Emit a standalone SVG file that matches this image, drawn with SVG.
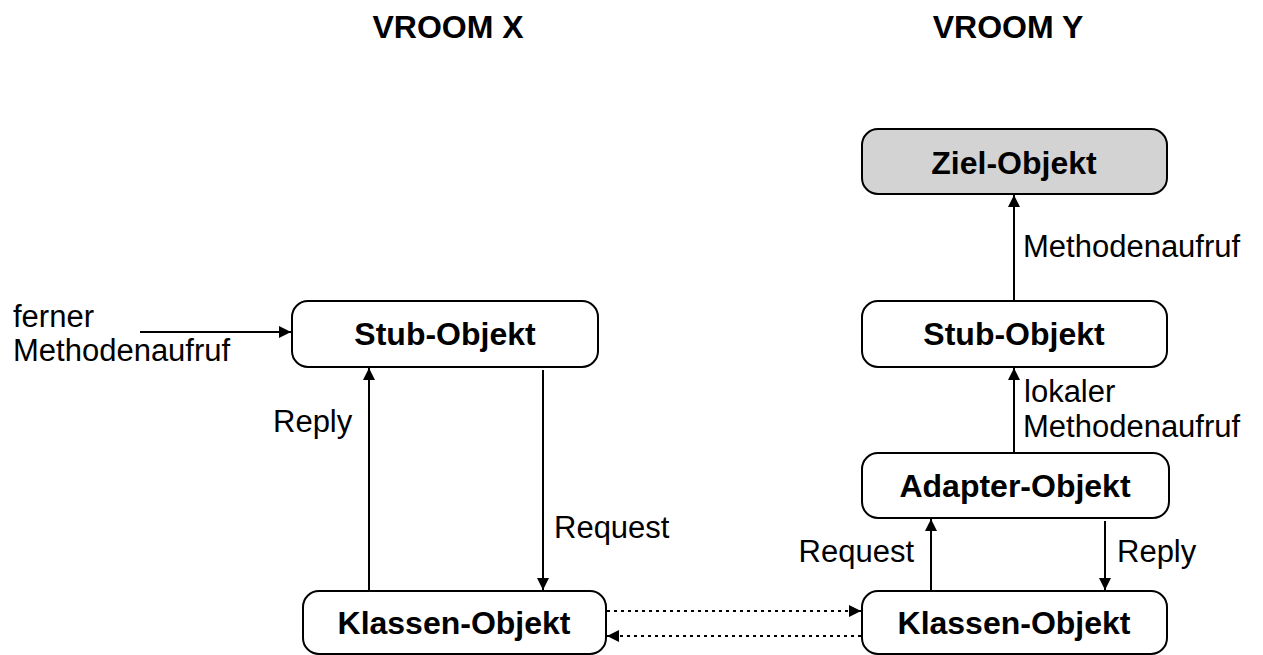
<svg xmlns="http://www.w3.org/2000/svg" width="1263" height="655" viewBox="0 0 1263 655">
<style>
.box{fill:#fff;stroke:#000;stroke-width:2}
.gray{fill:#d3d3d3}
.bt{font-family:"Liberation Sans",Arial,sans-serif;font-weight:bold;font-size:32px;text-anchor:middle}
.t{font-family:"Liberation Sans",Arial,sans-serif;font-size:31px}
.ln{stroke:#000;stroke-width:2;fill:none}
.dot{stroke:#000;stroke-width:2;fill:none;stroke-dasharray:3 4}
</style>
<defs>
<marker id="ah" viewBox="0 0 10 10" refX="10" refY="5" markerWidth="13" markerHeight="12" markerUnits="userSpaceOnUse" orient="auto"><path d="M0,0 L10,5 L0,10 z" fill="#000"/></marker>
</defs>
<text class="bt" x="448" y="38">VROOM X</text>
<text class="bt" x="1008" y="38">VROOM Y</text>
<g id="ziel"><rect class="box gray" x="862" y="129" width="305" height="65" rx="16"/><text class="bt" x="1014" y="174">Ziel-Objekt</text></g>
<g id="stubY"><rect class="box" x="862" y="301" width="305" height="66" rx="16"/><text class="bt" x="1014" y="345">Stub-Objekt</text></g>
<g id="adapter"><rect class="box" x="862" y="453" width="307" height="65" rx="16"/><text class="bt" x="1015" y="497">Adapter-Objekt</text></g>
<g id="klassenY"><rect class="box" x="862" y="591" width="305" height="63" rx="16"/><text class="bt" x="1014" y="634">Klassen-Objekt</text></g>
<g id="stubX"><rect class="box" x="292" y="301" width="306" height="66" rx="16"/><text class="bt" x="445" y="345">Stub-Objekt</text></g>
<g id="klassenX"><rect class="box" x="303" y="591" width="303" height="63" rx="16"/><text class="bt" x="454" y="634">Klassen-Objekt</text></g>
<g id="connectors">
<line class="ln" x1="140" y1="332" x2="291" y2="332" marker-end="url(#ah)"/>
<line class="ln" x1="369" y1="591" x2="369" y2="368" marker-end="url(#ah)"/>
<line class="ln" x1="543" y1="370" x2="543" y2="590" marker-end="url(#ah)"/>
<line class="dot" x1="607" y1="611" x2="861" y2="611" marker-end="url(#ah)"/>
<line class="dot" x1="861" y1="636" x2="607" y2="636" marker-end="url(#ah)"/>
<line class="ln" x1="931" y1="591" x2="931" y2="519" marker-end="url(#ah)"/>
<line class="ln" x1="1105" y1="521" x2="1105" y2="590" marker-end="url(#ah)"/>
<line class="ln" x1="1014" y1="453" x2="1014" y2="368" marker-end="url(#ah)"/>
<line class="ln" x1="1014" y1="301" x2="1014" y2="195" marker-end="url(#ah)"/>
</g>
<text class="t" x="13" y="327">ferner</text>
<text class="t" x="13" y="361">Methodenaufruf</text>
<text class="t" x="273" y="432">Reply</text>
<text class="t" x="554" y="538">Request</text>
<text class="t" x="1023" y="257">Methodenaufruf</text>
<text class="t" x="1024" y="402">lokaler</text>
<text class="t" x="1023" y="437">Methodenaufruf</text>
<text class="t" x="914" y="562" text-anchor="end">Request</text>
<text class="t" x="1117" y="562">Reply</text>
</svg>
